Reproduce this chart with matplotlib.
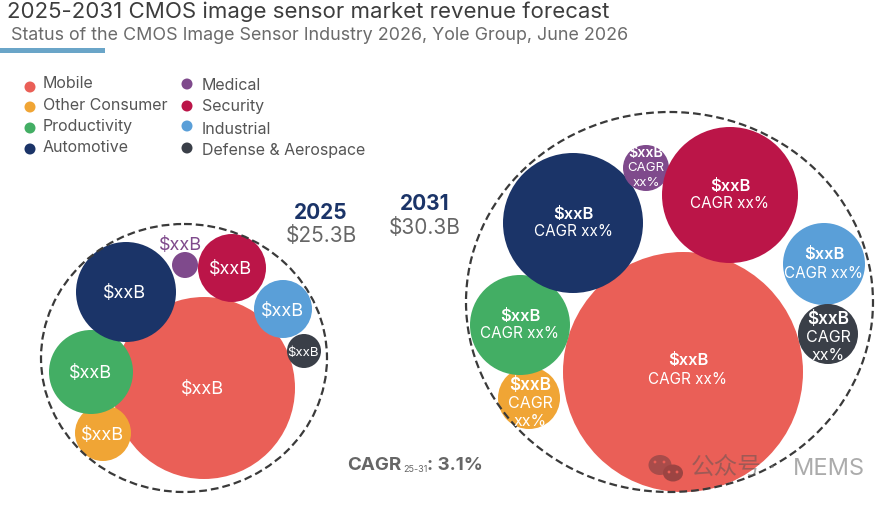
import matplotlib
matplotlib.use("Agg")
import matplotlib.pyplot as plt
from matplotlib.patches import Circle, Ellipse, Rectangle

plt.rcParams['font.family'] = ['Inter', 'Noto Sans CJK SC', 'DejaVu Sans']

segments = ['Mobile', 'Other Consumer', 'Productivity', 'Automotive',
            'Medical', 'Security', 'Industrial', 'Defense & Aerospace']
colors = ['#ea5f57', '#f0a535', '#43ae64', '#1b3468',
          '#7f4a8c', '#bb1548', '#5a9fd8', '#3a3f48']

# bubble radii (revenue itself is masked as $xxB)
radius_2025 = [91, 28, 42, 50, 13, 34, 29, 17]
radius_2031 = [120, 31, 50, 70, 23, 68, 41, 30]
total_2025 = '$25.3B'
total_2031 = '$30.3B'
cagr_total = '3.1%'

# layout, pixel coordinates of the reference
centers_2025 = [(204, 388), (103, 433), (91, 372), (126, 292),
                (185, 265), (232, 268), (283, 309), (304, 351)]
centers_2031 = [(683, 372), (529, 398), (520, 325), (573, 223),
                (646, 168), (730, 195), (824, 264), (828, 334)]
labels_2031 = ['$xxB|CAGR xx%', '$xxB|CAGR|xx%', '$xxB|CAGR xx%', '$xxB|CAGR xx%',
               '$xxB|CAGR|xx%', '$xxB|CAGR xx%', '$xxB|CAGR xx%', '$xxB|CAGR|xx%']
font_2031 = [11, 11.5, 11, 11, 9.5, 11, 11, 11.5]
font_2025 = [13, 13, 13, 13, 13, 13, 13, 9.5]

fig = plt.figure(figsize=(8.9, 5.05), dpi=100)
ax = fig.add_axes([0, 0, 1, 1])
ax.set_xlim(0, 890)
ax.set_ylim(505, 0)
ax.axis('off')

ax.text(7, 12, '2025-2031 CMOS image sensor market revenue forecast', fontsize=16,
        color='#3d3d3d', va='center', ha='left')
ax.text(11, 35, 'Status of the CMOS Image Sensor Industry 2026, Yole Group, June 2026',
        fontsize=12.9, color='#6b6b6b', va='center', ha='left')
ax.add_patch(Rectangle((0, 48), 105, 5, color='#6aa5c8', lw=0))

# legend
legend_marks = [(30, 87), (30, 107), (30, 128), (30, 149),
                (187, 84), (187, 106), (187, 126), (187, 148)]
legend_text = [(43, 84), (43, 105), (43, 127), (43, 148),
               (202, 86), (202, 107), (202, 129), (202, 150)]
for name, col, m, t in zip(segments, colors, legend_marks, legend_text):
    ax.add_patch(Circle(m, 5.5, color=col, lw=0))
    ax.text(t[0], t[1], name, fontsize=11.5, color='#555555', va='center', ha='left')

# dashed outlines
ax.add_patch(Ellipse((184, 358), 286, 268, fill=False, ec='#3a3a3a', lw=1.6,
                     ls=(0, (3.5, 1.8)), zorder=4))
ax.add_patch(Ellipse((669.5, 302), 407, 380, fill=False, ec='#3a3a3a', lw=1.6,
                     ls=(0, (3.5, 1.8)), zorder=4))

# 2025 bubbles
for i, (c, r) in enumerate(zip(centers_2025, radius_2025)):
    ax.add_patch(Circle(c, r, color=colors[i], lw=0, zorder=3))
    if segments[i] == 'Medical':
        ax.text(180, 245, '$xxB', fontsize=font_2025[i], color=colors[i], ha='center',
                va='center', zorder=6)
    else:
        ax.text(c[0] - 1, c[1] + 2, '$xxB', fontsize=font_2025[i], color='white', ha='center',
                va='center', zorder=6)

# 2031 bubbles
for i, (c, r) in enumerate(zip(centers_2031, radius_2031)):
    ax.add_patch(Circle(c, r, color=colors[i], lw=0, zorder=3))
    lines = labels_2031[i].split('|')
    step = 18 if font_2031[i] > 10 else 14.5
    if r == 120:
        c = (c[0] + 5, c[1] - 2)
    if segments[i] == 'Other Consumer':
        c = (c[0] + 1, c[1] + 6)
    if segments[i] == 'Defense & Aerospace':
        c = (c[0], c[1] + 3)
    y0 = c[1] - step * (len(lines) - 1) / 2
    for j, line in enumerate(lines):
        size = font_2031[i] * 1.08 if j == 0 else font_2031[i]
        ax.text(c[0], y0 + j * step, line, fontsize=size, color='white', ha='center',
                va='center', fontweight='semibold' if j == 0 else 'normal', zorder=6)

# totals
ax.text(321, 213, '2025', fontsize=15, fontweight='bold', color='#1b3468', ha='center', va='center')
ax.text(321, 236, total_2025, fontsize=15, color='#666666', ha='center', va='center')
ax.text(425, 204, '2031', fontsize=15, fontweight='bold', color='#1b3468', ha='center', va='center')
ax.text(425, 228, total_2031, fontsize=15, color='#666666', ha='center', va='center')

ax.text(347, 466, 'CAGR', fontsize=13.5, fontweight='bold', color='#666666', ha='left', va='center')
ax.text(403, 469, '25-31', fontsize=6.5, color='#666666', ha='left', va='center')
ax.text(427, 466, ': ' + cagr_total, fontsize=13.5, fontweight='bold', color='#666666', ha='left', va='center')

# watermark
ax.add_patch(Ellipse((660, 465), 23, 20, color='#a84c4a', lw=0, zorder=7))
ax.add_patch(Ellipse((673, 473), 20, 17, color='#9c4442', lw=0, zorder=7))
for ex, ey in [(655, 462), (664, 462), (669, 472), (677, 472)]:
    ax.add_patch(Circle((ex, ey), 1.4, color='#ea5f57', lw=0, zorder=8))
ax.text(691, 469, '公众号', fontsize=17, color='#555555', alpha=0.5, ha='left', va='center', zorder=7)
ax.text(768, 469, '·', fontsize=17, color='#777777', alpha=0.6, ha='left', va='center', zorder=7)
ax.text(793, 469, 'MEMS', fontsize=17, color='#888888', alpha=0.7, ha='left', va='center', zorder=7)

fig.savefig('out.png', dpi=100)
